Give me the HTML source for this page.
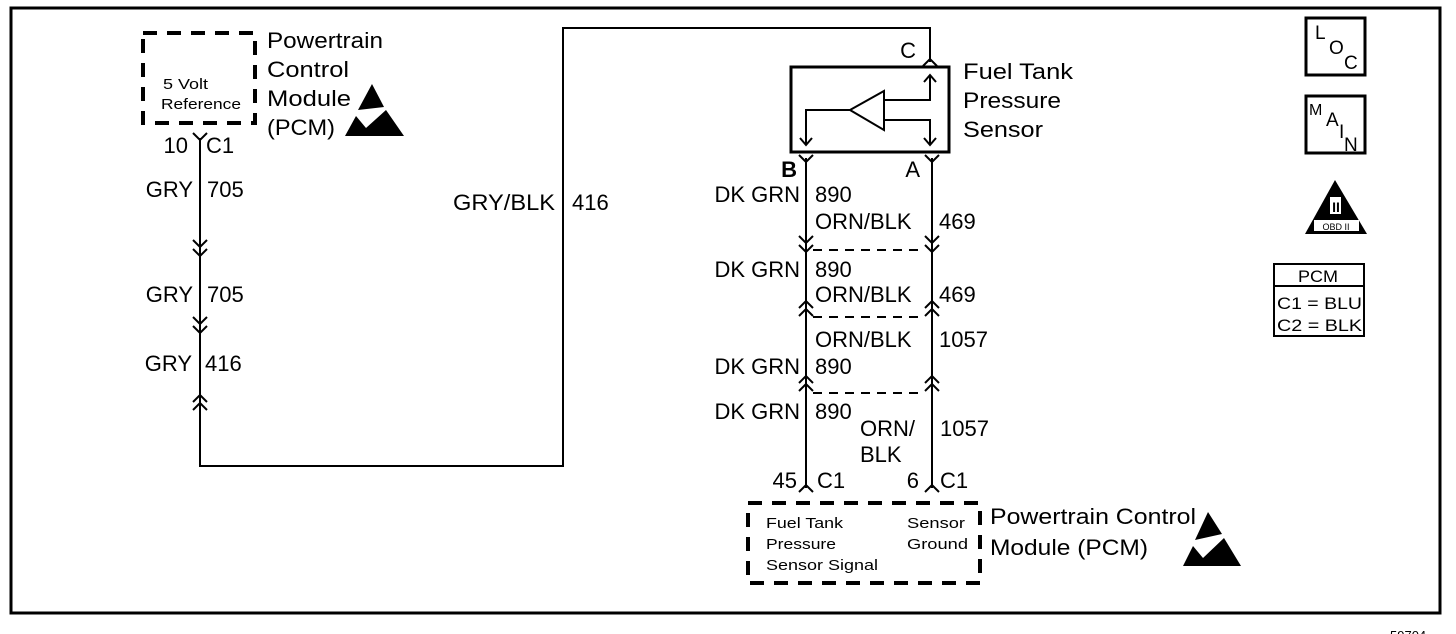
<!DOCTYPE html>
<html><head><style>
html,body{margin:0;padding:0;background:#fff;}
svg{display:block;}
text{font-family:"Liberation Sans",Arial,sans-serif;fill:#000;}
</style></head><body>
<svg width="1456" height="634" viewBox="0 0 1456 634" xmlns="http://www.w3.org/2000/svg">
<g fill="none" stroke="#000">
<rect x="11" y="8" width="1429" height="605" stroke-width="3"/>
<rect x="143" y="33" width="112" height="90" stroke-width="4" stroke-dasharray="14,10"/>
<path d="M200 138 V466 H563 V28 H930 V62" stroke-width="2"/>
<path d="M193 133 L200 140 L207 133" stroke-width="2"/>
<path d="M193 240 L200 247 L207 240 M193 249 L200 256 L207 249" stroke-width="2"/>
<path d="M193 317 L200 324 L207 317 M193 326 L200 333 L207 326" stroke-width="2"/>
<path d="M193 402 L200 395 L207 402 M193 410 L200 403 L207 410" stroke-width="2"/>
<path d="M923 66 L930 59 L937 66" stroke-width="2"/>
<rect x="791" y="67" width="158" height="85" stroke-width="3"/>
<path d="M850 110 L884 91 L884 130 Z" stroke-width="2"/>
<path d="M884 100 H930 V75 M924 82 L930 75 L936 82" stroke-width="2"/>
<path d="M884 120 H930 V145 M924 138 L930 145 L936 138" stroke-width="2"/>
<path d="M850 110 H806 V145 M800 138 L806 145 L812 138" stroke-width="2"/>
<path d="M806 158 V488 M932 158 V488" stroke-width="2"/>
<path d="M799 155 L806 162 L813 155 M925 155 L932 162 L939 155" stroke-width="2"/>
<path d="M799 236 L806 243 L813 236 M925 236 L932 243 L939 236" stroke-width="2"/>
<path d="M799 245 L806 252 L813 245 M925 245 L932 252 L939 245" stroke-width="2"/>
<path d="M813 250 H925" stroke-width="2" stroke-dasharray="9,7"/>
<path d="M799 308 L806 301 L813 308 M925 308 L932 301 L939 308" stroke-width="2"/>
<path d="M799 316 L806 309 L813 316 M925 316 L932 309 L939 316" stroke-width="2"/>
<path d="M813 317 H925" stroke-width="2" stroke-dasharray="9,7"/>
<path d="M799 383 L806 376 L813 383 M925 383 L932 376 L939 383" stroke-width="2"/>
<path d="M799 391 L806 384 L813 391 M925 391 L932 384 L939 391" stroke-width="2"/>
<path d="M813 393 H925" stroke-width="2" stroke-dasharray="9,7"/>
<path d="M799 492 L806 485 L813 492 M925 492 L932 485 L939 492" stroke-width="2"/>
<rect x="748" y="503" width="232" height="80" stroke-width="4" stroke-dasharray="14,10"/>
<rect x="1306" y="18" width="59" height="57" stroke-width="3"/>
<rect x="1306" y="96" width="59" height="57" stroke-width="3"/>
<rect x="1274" y="264" width="90" height="72" stroke-width="2"/>
<path d="M1274 286 H1364" stroke-width="2"/>
</g>
<path d="M358 110 L372 84 L384 107 Z" fill="#000"/>
<path d="M345 136 L356 116 L366 128 L386 110 L404 136 Z" fill="#000"/>
<path d="M1195 540 L1208 512 L1222 534 Z" fill="#000"/>
<path d="M1183 566 L1193 546 L1203 558 L1224 538 L1241 566 Z" fill="#000"/>
<path d="M1335 180 L1305 234 L1367 234 Z" fill="#000"/>
<rect x="1314" y="220" width="45" height="11" fill="#fff"/>
<rect x="1330" y="197" width="11" height="17" fill="#fff"/>
<text x="1336" y="230" font-size="9" text-anchor="middle">OBD II</text>
<text x="1336" y="212" font-size="14" text-anchor="middle" font-weight="bold">II</text>

<g font-size="22">
<text x="267" y="48" textLength="116" lengthAdjust="spacingAndGlyphs">Powertrain</text>
<text x="267" y="77" textLength="82" lengthAdjust="spacingAndGlyphs">Control</text>
<text x="267" y="106" textLength="84" lengthAdjust="spacingAndGlyphs">Module</text>
<text x="267" y="135" textLength="68" lengthAdjust="spacingAndGlyphs">(PCM)</text>
<text x="188" y="153" text-anchor="end">10</text>
<text x="206" y="153">C1</text>
<text x="193" y="197" text-anchor="end">GRY</text><text x="207" y="197">705</text>
<text x="193" y="302" text-anchor="end">GRY</text><text x="207" y="302">705</text>
<text x="192" y="371" text-anchor="end">GRY</text><text x="205" y="371">416</text>
<text x="453" y="210" textLength="102" lengthAdjust="spacingAndGlyphs">GRY/BLK</text><text x="572" y="210">416</text>
<text x="916" y="58" text-anchor="end">C</text>
<text x="963" y="79" textLength="110" lengthAdjust="spacingAndGlyphs">Fuel Tank</text>
<text x="963" y="108" textLength="98" lengthAdjust="spacingAndGlyphs">Pressure</text>
<text x="963" y="137" textLength="80" lengthAdjust="spacingAndGlyphs">Sensor</text>
<text x="797" y="177" text-anchor="end" font-weight="bold">B</text>
<text x="920" y="177" text-anchor="end">A</text>
<text x="800" y="202" text-anchor="end">DK GRN</text><text x="815" y="202">890</text>
<text x="815" y="229">ORN/BLK</text><text x="939" y="229">469</text>
<text x="800" y="277" text-anchor="end">DK GRN</text><text x="815" y="277">890</text>
<text x="815" y="302">ORN/BLK</text><text x="939" y="302">469</text>
<text x="815" y="347">ORN/BLK</text><text x="939" y="347">1057</text>
<text x="800" y="374" text-anchor="end">DK GRN</text><text x="815" y="374">890</text>
<text x="800" y="419" text-anchor="end">DK GRN</text><text x="815" y="419">890</text>
<text x="860" y="436">ORN/</text><text x="940" y="436">1057</text>
<text x="860" y="462">BLK</text>
<text x="797" y="488" text-anchor="end">45</text><text x="817" y="488">C1</text>
<text x="919" y="488" text-anchor="end">6</text><text x="940" y="488">C1</text>
<text x="990" y="524" textLength="206" lengthAdjust="spacingAndGlyphs">Powertrain Control</text>
<text x="990" y="555" textLength="158" lengthAdjust="spacingAndGlyphs">Module (PCM)</text>
</g>
<g font-size="15">
<text x="163" y="89" textLength="45" lengthAdjust="spacingAndGlyphs">5 Volt</text>
<text x="161" y="109" textLength="80" lengthAdjust="spacingAndGlyphs">Reference</text>
<text x="766" y="528" textLength="77" lengthAdjust="spacingAndGlyphs">Fuel Tank</text>
<text x="766" y="549" textLength="70" lengthAdjust="spacingAndGlyphs">Pressure</text>
<text x="766" y="570" textLength="112" lengthAdjust="spacingAndGlyphs">Sensor Signal</text>
<text x="907" y="528" textLength="58" lengthAdjust="spacingAndGlyphs">Sensor</text>
<text x="907" y="549" textLength="61" lengthAdjust="spacingAndGlyphs">Ground</text>
</g>
<g font-size="19">
<text x="1315" y="39">L</text><text x="1329" y="54">O</text><text x="1344" y="69">C</text>
<text x="1309" y="115" font-size="16">M</text><text x="1326" y="126">A</text><text x="1339" y="138">I</text><text x="1344" y="151">N</text>
</g>
<g font-size="17">
<text x="1298" y="282" textLength="40" lengthAdjust="spacingAndGlyphs">PCM</text>
<text x="1277" y="309" textLength="85" lengthAdjust="spacingAndGlyphs">C1 = BLU</text>
<text x="1277" y="331" textLength="85" lengthAdjust="spacingAndGlyphs">C2 = BLK</text>
</g>
<text x="1390" y="640" font-size="13">59704</text>
</svg>
</body></html>
